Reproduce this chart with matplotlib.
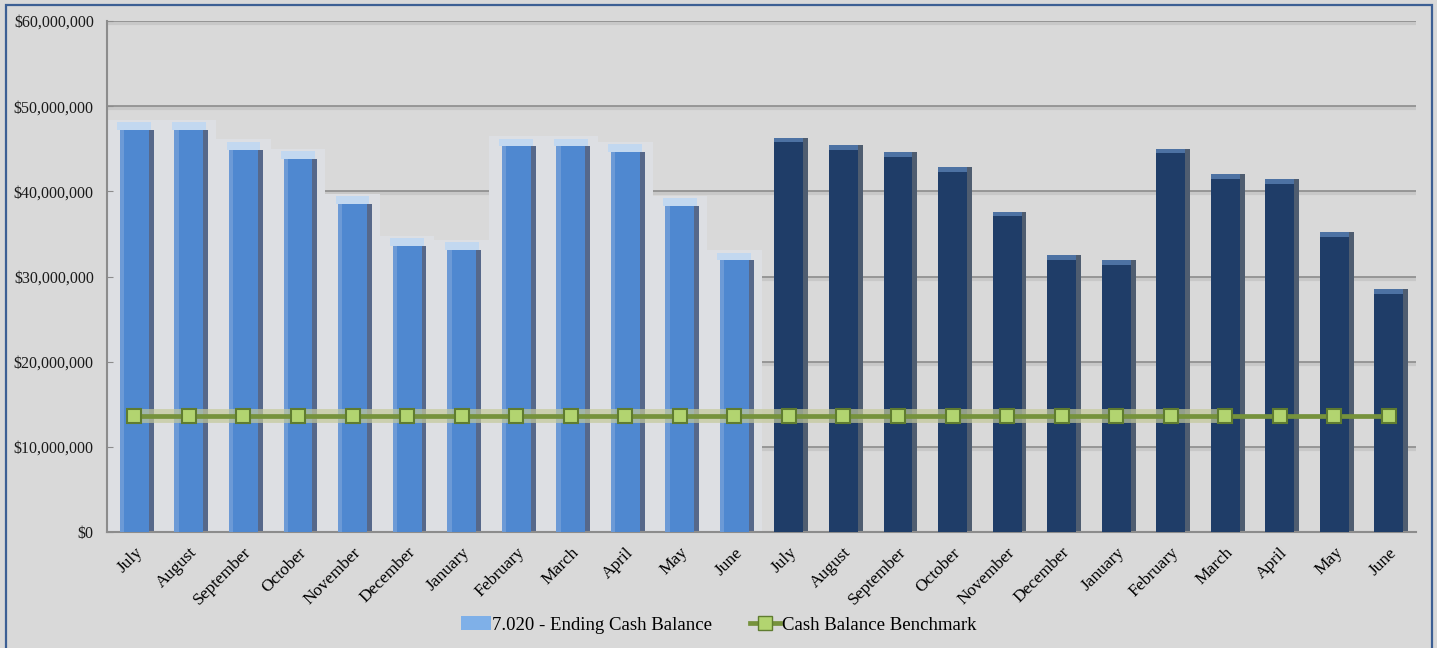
import matplotlib.pyplot as plt
from matplotlib.patches import Rectangle, Patch
from matplotlib.lines import Line2D
from matplotlib.ticker import FuncFormatter

plt.rcParams['font.family'] = ['Liberation Serif', 'DejaVu Serif']

months = ["July", "August", "September", "October", "November", "December",
          "January", "February", "March", "April", "May", "June"]

# ending cash balance, first and second fiscal year
prior_year = [47.2, 47.2, 44.9, 43.8, 38.5, 33.6, 33.1, 45.3, 45.3, 44.6, 38.3, 31.9]
current_year = [46.3, 45.4, 44.6, 42.8, 37.6, 32.5, 31.9, 45.0, 42.0, 41.4, 35.2, 28.5]
benchmark = 13.65  # millions, flat for every month

labels = months + months
balance = [v * 1e6 for v in prior_year + current_year]
bench = [benchmark * 1e6] * len(labels)
x = list(range(len(labels)))
n_prior = len(prior_year)

bg = "#d9d9d9"
fig = plt.figure(figsize=(14.37, 6.48), dpi=100, facecolor=bg)
ax = fig.add_axes([0.0745, 0.179, 0.911, 0.7886], facecolor=bg)

# outer chart border
fig.patches.append(Rectangle((6 / 1437, -0.05), 1426 / 1437, 1.05 - 5 / 648,
                             transform=fig.transFigure, fill=False,
                             edgecolor="#3c5f94", linewidth=1.6, zorder=0))

ax.set_xlim(-0.5, len(labels) - 0.5)
ax.set_ylim(0, 60e6)
yt = [i * 10e6 for i in range(7)]
ax.set_yticks(yt)
ax.yaxis.set_major_formatter(FuncFormatter(lambda v, p: "${:,.0f}".format(v)))

# gridlines with a soft shadow underneath
for t in yt[1:]:
    ax.axhline(t - 0.25e6, color="#c8c8c8", lw=3, zorder=0.5)
    ax.axhline(t, color="#8c8c8c", lw=1.2, zorder=0.6)

w = 0.53
sh = 0.09
cap = 0.55e6

# first year: light bars with a pale glow behind
xp = x[:n_prior]
vp = balance[:n_prior]
ax.bar(xp, [v + 1.2e6 for v in vp], width=1.0, color="#dddfe3", zorder=1)
ax.bar([i + sh for i in xp], vp, width=w, color="#56688a", zorder=2)
ax.bar(xp, vp, width=w, color="#4f88d0", zorder=3)
ax.bar(xp, [0.9e6] * n_prior, bottom=vp, width=w + sh, color="#c2d8f0", zorder=3)
ax.bar([i - w / 2 + 0.04 for i in xp], vp, width=0.08, color="#6c9ad6", zorder=3)

# second year: dark bars
xc = x[n_prior:]
vc = balance[n_prior:]
ax.bar([i + sh for i in xc], vc, width=w, color="#4f5d70", zorder=2)
ax.bar(xc, vc, width=w, color="#1f3d68", zorder=3)
ax.bar(xc, [cap] * len(xc), bottom=[v - cap for v in vc], width=w,
       color="#4d72a3", zorder=3)

# benchmark line
last_hazy = 20
ax.plot(x[:last_hazy + 1], bench[:last_hazy + 1], color="#c4c99a", lw=10,
        alpha=0.7, solid_capstyle="projecting", zorder=4)
ax.plot(x, bench, color="#76923c", lw=3.4, zorder=5)
ax.plot(x, bench, ls="none", marker="s", ms=10, mfc="#b2d470",
        mec="#5f7c30", mew=1.5, zorder=6)

for s in ["top", "right"]:
    ax.spines[s].set_visible(False)
for s in ["left", "bottom"]:
    ax.spines[s].set_color("#8c8c8c")
    ax.spines[s].set_linewidth(1.5)

ax.set_xticks(x)
ax.set_xticklabels(labels, rotation=45, ha="right", va="top",
                   rotation_mode="anchor", fontsize=12.5)
ax.tick_params(axis="x", length=0, pad=9)
ax.tick_params(axis="y", length=4, direction="in", color="#8c8c8c",
               labelsize=11.5, pad=9.5)
for lab in ax.get_yticklabels():
    lab.set_color("#1a1a1a")

handles = [Patch(facecolor="#7fb0e8", edgecolor="none"),
           Line2D([0], [0], color="#76923c", lw=3.4, marker="s", ms=10,
                  mfc="#b2d470", mec="#5f7c30")]
fig.legend(handles, ["7.020 - Ending Cash Balance", "Cash Balance Benchmark"],
           loc="center", bbox_to_anchor=(0.5, 1 - 625 / 648), ncol=2,
           frameon=False, fontsize=13.5, handlelength=1.6, handletextpad=0.1,
           columnspacing=2.0)

fig.savefig("out.png", dpi=100, facecolor=bg)
